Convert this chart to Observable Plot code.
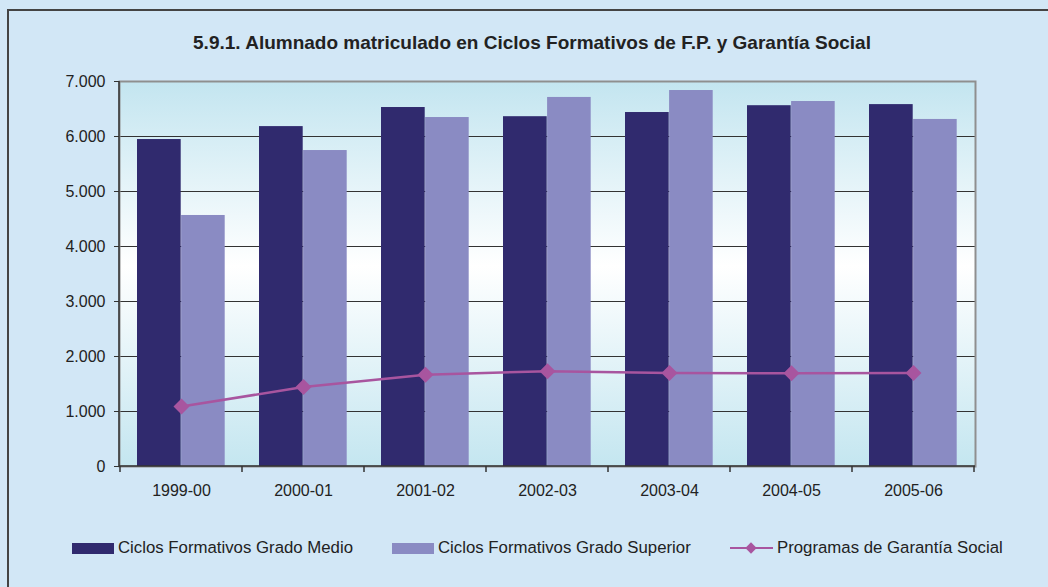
<!DOCTYPE html>
<html>
<head>
<meta charset="utf-8">
<script src="https://cdn.jsdelivr.net/npm/d3@7"></script>
<script src="https://cdn.jsdelivr.net/npm/@observablehq/plot@0.6"></script>
<style>
  html, body { margin: 0; padding: 0; overflow: hidden; }
  #wrap { position: relative; width: 1048px; height: 587px; overflow: hidden;
    background: #d2e7f6; font-family: "Liberation Sans", Arial, sans-serif; color: #222; }
  #border { position: absolute; left: 7px; top: 9px; width: 1200px; height: 800px;
    border-left: 2px solid #444; border-top: 2px solid #444; }
  #title { position: absolute; left: 0; width: 1064px; top: 32px; text-align: center;
    font-weight: bold; font-size: 19px; line-height: 22px; color: #222; }
  #chart { position: absolute; left: 0; top: 60px; }
  .lg { position: absolute; font-size: 16.8px; line-height: 20px; top: 538px; white-space: nowrap; }
  .sw { position: absolute; top: 543px; width: 42px; height: 11px; }
  .ln { position: absolute; top: 547px; width: 43px; height: 2px; }
  .dm { position: absolute; top: 544px; width: 8px; height: 8px; transform: rotate(45deg); }
</style>
</head>
<body>
<div id="wrap">
  <div id="border"></div>
  <div id="title"></div>
  <div id="chart"></div>
  <div id="legend"></div>
</div>
<script>
const titleText = "5.9.1. Alumnado matriculado en Ciclos Formativos de F.P. y Garantía Social";
const years = ["1999-00", "2000-01", "2001-02", "2002-03", "2003-04", "2004-05", "2005-06"];
const gradoMedio = [5945, 6180, 6527, 6360, 6436, 6560, 6580];
const gradoSuperior = [4564, 5745, 6345, 6710, 6836, 6636, 6310];
const garantiaSocial = [1090, 1445, 1667, 1733, 1700, 1695, 1700];
const seriesNames = ["Ciclos Formativos Grado Medio", "Ciclos Formativos Grado Superior", "Programas de Garantía Social"];
const yTicks = [0, 1000, 2000, 3000, 4000, 5000, 6000, 7000];
const colors = ["#302a6e", "#8a8bc3", "#a8559f"];

const rows = years.map((y, i) => ({year: y, medio: gradoMedio[i], superior: gradoSuperior[i], gs: garantiaSocial[i]}));
const fmt = d3.formatLocale({decimal: ",", thousands: ".", grouping: [3], currency: ["", ""]}).format(",d");

document.getElementById("title").textContent = titleText;

function background(index, scales, values, dims) {
  const g = d3.create("svg:g");
  const defs = g.append("defs");
  const lg = defs.append("linearGradient").attr("id", "plotbg").attr("x1", 0).attr("y1", 0).attr("x2", 0).attr("y2", 1);
  lg.append("stop").attr("offset", "0%").attr("stop-color", "#c3e5f0");
  lg.append("stop").attr("offset", "48%").attr("stop-color", "#ffffff");
  lg.append("stop").attr("offset", "100%").attr("stop-color", "#c4e6f0");
  g.append("rect")
    .attr("x", dims.marginLeft).attr("y", dims.marginTop)
    .attr("width", dims.width - dims.marginLeft - dims.marginRight)
    .attr("height", dims.height - dims.marginTop - dims.marginBottom)
    .attr("fill", "url(#plotbg)");
  return g.node();
}

function axisLines(index, scales, values, dims) {
  const sx = scales.x;
  const bw = typeof sx.bandwidth === "function" ? sx.bandwidth() : (dims.width - dims.marginLeft - dims.marginRight) / years.length;
  const yb = dims.height - dims.marginBottom;
  const g = d3.create("svg:g").attr("stroke", "#333").attr("stroke-width", 1.5);
  const pos = years.map(y => sx(y)).concat([sx(years[years.length - 1]) + bw]);
  for (const p of pos) {
    g.append("line").attr("x1", p).attr("x2", p).attr("y1", yb).attr("y2", yb + 6);
  }
  g.append("line").attr("x1", dims.marginLeft).attr("x2", dims.marginLeft).attr("y1", dims.marginTop).attr("y2", yb);
  g.append("line").attr("x1", dims.marginLeft).attr("x2", dims.width - dims.marginRight).attr("y1", yb).attr("y2", yb);
  return g.node();
}

const chart = Plot.plot({
  width: 1048,
  height: 460,
  marginTop: 21,
  marginBottom: 54,
  marginLeft: 119,
  marginRight: 73,
  style: {background: "transparent", fontFamily: "'Liberation Sans', Arial, sans-serif", fontSize: "16px", color: "#222", overflow: "visible"},
  x: {domain: years, padding: 0, label: null},
  y: {domain: [0, 7000], label: null},
  marks: [
    background,
    Plot.gridY(yTicks.slice(1, -1), {stroke: "#333", strokeOpacity: 1, strokeWidth: 1}),
    Plot.frame({stroke: "#8f8f8f", strokeWidth: 2}),
    Plot.barY(rows, {x: "year", y: "medio", fill: colors[0], insetLeft: 17, insetRight: 61.3}),
    Plot.barY(rows, {x: "year", y: "superior", fill: colors[1], insetLeft: 61.1, insetRight: 17.3}),
    Plot.line(rows, {x: "year", y: "gs", stroke: colors[2], strokeWidth: 2.5}),
    Plot.dot(rows, {x: "year", y: "gs", symbol: "square", r: 6.4, rotate: 45, fill: colors[2], stroke: "none"}),
    axisLines,
    Plot.axisY({ticks: yTicks, tickFormat: fmt, tickSize: 5, tickPadding: 9, stroke: "#333", fontSize: 16, fill: "#222"}),
    Plot.axisX({tickSize: 0, tickPadding: 18, fontSize: 16, fill: "#222"})
  ]
});
document.getElementById("chart").appendChild(chart);

const legend = document.getElementById("legend");
const items = [
  {type: "bar", sx: 72, tx: 118},
  {type: "bar", sx: 392, tx: 438},
  {type: "line", sx: 730, tx: 777}
];
items.forEach((it, i) => {
  if (it.type === "bar") {
    const s = document.createElement("div");
    s.className = "sw"; s.style.left = it.sx + "px"; s.style.background = colors[i];
    legend.appendChild(s);
  } else {
    const l = document.createElement("div");
    l.className = "ln"; l.style.left = it.sx + "px"; l.style.background = colors[i];
    legend.appendChild(l);
    const d = document.createElement("div");
    d.className = "dm"; d.style.left = (it.sx + 17) + "px"; d.style.background = colors[i];
    legend.appendChild(d);
  }
  const t = document.createElement("div");
  t.className = "lg"; t.style.left = it.tx + "px"; t.textContent = seriesNames[i];
  legend.appendChild(t);
});
</script>
</body>
</html>
